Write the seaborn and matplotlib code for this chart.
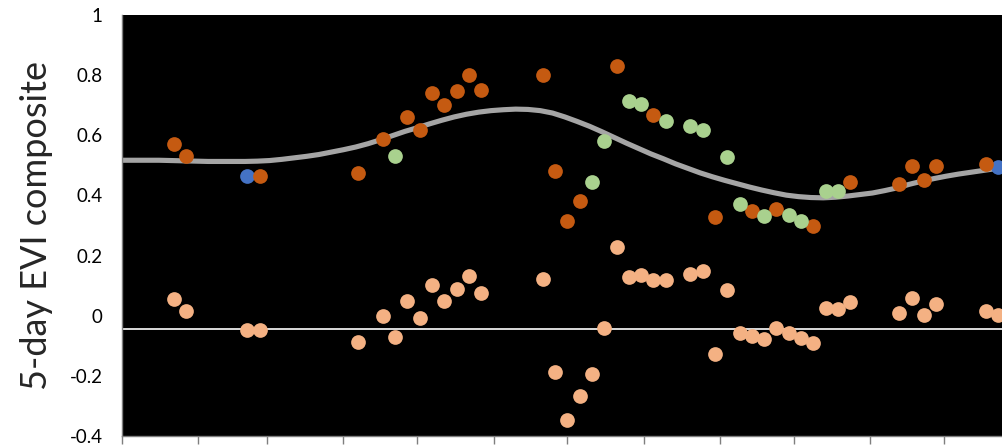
import matplotlib
matplotlib.use("Agg")
import matplotlib.pyplot as plt
import seaborn as sns
import pandas as pd

# Day-of-year of each 5-day composite and its EVI value
obs_doy = [21, 26, 56, 96, 106, 116, 121, 126, 131, 136, 141, 146,
           171, 176, 181, 186, 201, 216, 241, 256, 266, 281, 296,
           316, 321, 326, 331, 351]
obs_evi = [0.572, 0.531, 0.464, 0.476, 0.588, 0.661, 0.619, 0.740, 0.700, 0.748, 0.801, 0.752,
           0.800, 0.480, 0.316, 0.383, 0.832, 0.667, 0.329, 0.347, 0.356, 0.297, 0.444,
           0.439, 0.498, 0.452, 0.497, 0.503]

alt_doy = [111, 191, 196, 206, 211, 221, 231, 236, 246, 251, 261, 271, 276, 286, 291]
alt_evi = [0.531, 0.444, 0.581, 0.714, 0.703, 0.648, 0.630, 0.619, 0.527, 0.371, 0.330,
           0.334, 0.316, 0.414, 0.414]

ref_doy = [51, 356]
ref_evi = [0.464, 0.494]

# Deviation of every composite from the fitted seasonal curve
resid_doy = [21, 26, 51, 56, 96, 106, 111, 116, 121, 126, 131, 136, 141, 146,
             171, 176, 181, 186, 191, 196, 201, 206, 211, 216, 221, 231, 236,
             241, 246, 251, 256, 261, 266, 271, 276, 281, 286, 291, 296,
             316, 321, 326, 331, 351, 356]
resid_val = [0.057, 0.017, -0.046, -0.046, -0.087, 0.000, -0.070, 0.048, -0.008, 0.102, 0.050, 0.088, 0.132, 0.077,
             0.121, -0.187, -0.347, -0.268, -0.193, -0.040, 0.227, 0.128, 0.136, 0.119, 0.118, 0.140, 0.148,
             -0.126, 0.087, -0.057, -0.069, -0.076, -0.042, -0.058, -0.074, -0.092, 0.026, 0.021, 0.046,
             0.008, 0.058, 0.004, 0.039, 0.017, 0.002]

# Fitted seasonal curve, sampled every 5 days
fit_doy = list(range(0, 366, 5))
fit_evi = [0.517, 0.517, 0.517, 0.517, 0.516, 0.515, 0.514, 0.513, 0.513, 0.513,
           0.513, 0.514, 0.516, 0.520, 0.525, 0.530, 0.536, 0.544, 0.552, 0.561,
           0.572, 0.585, 0.599, 0.613, 0.625, 0.638, 0.650, 0.661, 0.670, 0.677,
           0.682, 0.685, 0.687, 0.686, 0.682, 0.674, 0.661, 0.646, 0.630, 0.612,
           0.593, 0.574, 0.556, 0.538, 0.522, 0.505, 0.490, 0.475, 0.462, 0.450,
           0.439, 0.428, 0.418, 0.409, 0.401, 0.396, 0.393, 0.392, 0.394, 0.398,
           0.403, 0.408, 0.416, 0.425, 0.437, 0.447, 0.456, 0.464, 0.471, 0.477,
           0.483, 0.489, 0.494, 0.498]

threshold = -0.045
month_starts = [0, 31, 59, 90, 120, 151, 181, 212, 243, 273, 304, 334, 365]
y_ticks = [-0.4, -0.2, 0, 0.2, 0.4, 0.6, 0.8, 1]
y_ticklabels = ["-0.4", "-0.2", "0", "0.2", "0.4", "0.6", "0.8", "1"]

sns.set_style("white")
plt.rcParams["font.family"] = ["Lato", "DejaVu Sans"]

W, H = 1002, 446
fig = plt.figure(figsize=(W / 100, H / 100), dpi=100)
fig.patch.set_facecolor("white")
ax = fig.add_axes([122 / W, 10 / H, 898 / W, 421 / H])
ax.set_facecolor("black")

fit_df = pd.DataFrame({"doy": fit_doy, "evi": fit_evi})
sns.lineplot(data=fit_df, x="doy", y="evi", color="#A5A5A5", linewidth=3.7, ax=ax, zorder=2)

ax.axhline(threshold, color="white", linewidth=1.2, zorder=2.5)

dot = dict(s=112, linewidth=0, ax=ax, legend=False)
sns.scatterplot(x=resid_doy, y=resid_val, color="#F4B183", zorder=3, **dot)
sns.scatterplot(x=ref_doy, y=ref_evi, color="#4472C4", zorder=3, **dot)
sns.scatterplot(x=obs_doy, y=obs_evi, color="#C55A11", zorder=4, **dot)
sns.scatterplot(x=alt_doy, y=alt_evi, color="#A9D18E", zorder=5, **dot)

ax.set_xlim(0, 365)
ax.set_ylim(-0.4, 1)
ax.set_xticks(month_starts)
ax.set_xticklabels([])
ax.set_yticks(y_ticks)
ax.set_yticklabels(y_ticklabels, fontsize=13.5, color="#000000")
ax.tick_params(axis="x", direction="out", length=6, width=1, color="#7f7f7f", bottom=True)
ax.tick_params(axis="y", length=0, pad=14)
ax.set_xlabel("")
ax.set_ylabel("5-day EVI composite", fontsize=26, labelpad=12)

for side in ["top", "right"]:
    ax.spines[side].set_visible(False)
for side in ["left", "bottom"]:
    ax.spines[side].set_color("#7f7f7f")
    ax.spines[side].set_linewidth(1)

fig.savefig("out.png", dpi=100)
